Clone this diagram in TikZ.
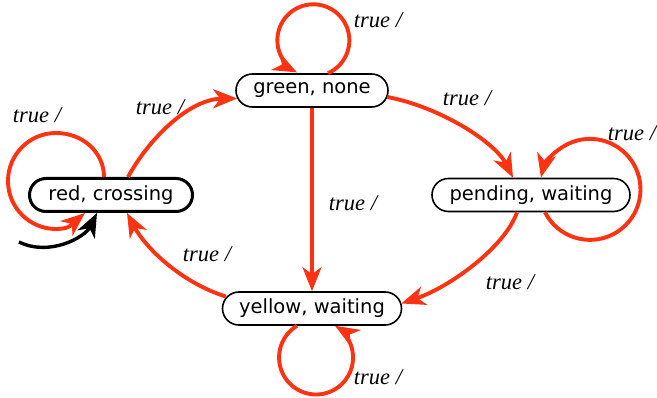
\documentclass[tikz,border=0pt]{standalone}
\usepackage{fontspec}
\setmainfont{DejaVu Sans}
\newfontfamily\labelfont{Liberation Serif}
\usetikzlibrary{arrows.meta,calc,shapes.misc}
\definecolor{tred}{RGB}{255,51,17}
\begin{document}
\begin{tikzpicture}[x=1pt,y=1pt,
  state/.style={draw, rounded rectangle, line width=1.6pt, minimum height=33pt, inner sep=0pt,
    font=\fontsize{19.5}{19.5}\selectfont},
  arrowtip/.style={-{Stealth[length=24pt,width=19pt,inset=7pt]}},
  tr/.style={draw=tred, line width=3.9pt, arrowtip},
  lbl/.style={font=\labelfont\itshape\fontsize{22.5}{22.5}\selectfont, inner sep=0pt}]
\useasboundingbox (0,0) rectangle (657,397);
\node[state, minimum width=152pt] (green) at (312,306.5) {green, none};
\node[state, line width=3pt, minimum width=163pt] (red) at (111,202) {red, crossing};
\node[state, minimum width=198pt] (pend) at (531,202) {pending, waiting};
\node[state, minimum width=179pt] (yellow) at (312,88.5) {yellow, waiting};
\coordinate (init) at (19,155);
% initial
\draw[line width=3.4pt, arrowtip] (init) .. controls (50,140) and (85,160) .. ($(red.south)+(-14,0)$);
% red loop
\draw[tr] ($(red.north)+(-7,0)$) .. controls (104,245) and (82.5,264) .. (56,264)
   .. controls (29.5,264) and (8,242.5) .. (8,216)
   .. controls (8,189.5) and (29.5,168) .. (56,168)
   .. controls (71,168) and (73,174) .. ($(red.south)+(-26,0)$);
% red -> green
\draw[tr] ($(red.north)+(17,0)$) .. controls (150,260) and (190,298) .. ($(green.west)+(2,-8)$);
% green loop
\draw[tr] ($(green.north)+(16,0)$) arc[start angle=-66, end angle=243, radius=36];
% green -> pending
\draw[tr] ($(green.east)+(-1.5,-6.5)$) .. controls (440,290) and (495,255) .. ($(pend.north)+(-18,0)$);
% pending loop
\draw[tr] ($(pend.south)+(14,0)$) arc[start angle=207, end angle=526.5, radius=50.5];
% green -> yellow
\draw[tr] (green.south) -- (yellow.north);
% pending -> yellow
\draw[tr] ($(pend.south)+(-14,0)$) .. controls (505,150) and (450,110) .. ($(yellow.east)+(-1,5)$);
% yellow -> red
\draw[tr] ($(yellow.west)+(4,12)$) .. controls (180,115) and (145,150) .. ($(red.south)+(16,0)$);
% yellow loop
\draw[tr] ($(yellow.south)+(-15,0)$) arc[start angle=121, end angle=419, radius=37];
% labels
\node[lbl] (l1) at (37,282) {true /};
\node[lbl] (l2) at (160,290) {true /};
\node[lbl] (l3) at (378,377) {true /};
\node[lbl] (l4) at (467,299) {true /};
\node[lbl] (l5) at (632,264) {true /};
\node[lbl] (l6) at (353,194) {true /};
\node[lbl] (l7) at (510,115) {true /};
\node[lbl] (l8) at (207,143) {true /};
\node[lbl] (l9) at (378,20) {true /};
\end{tikzpicture}
\end{document}
